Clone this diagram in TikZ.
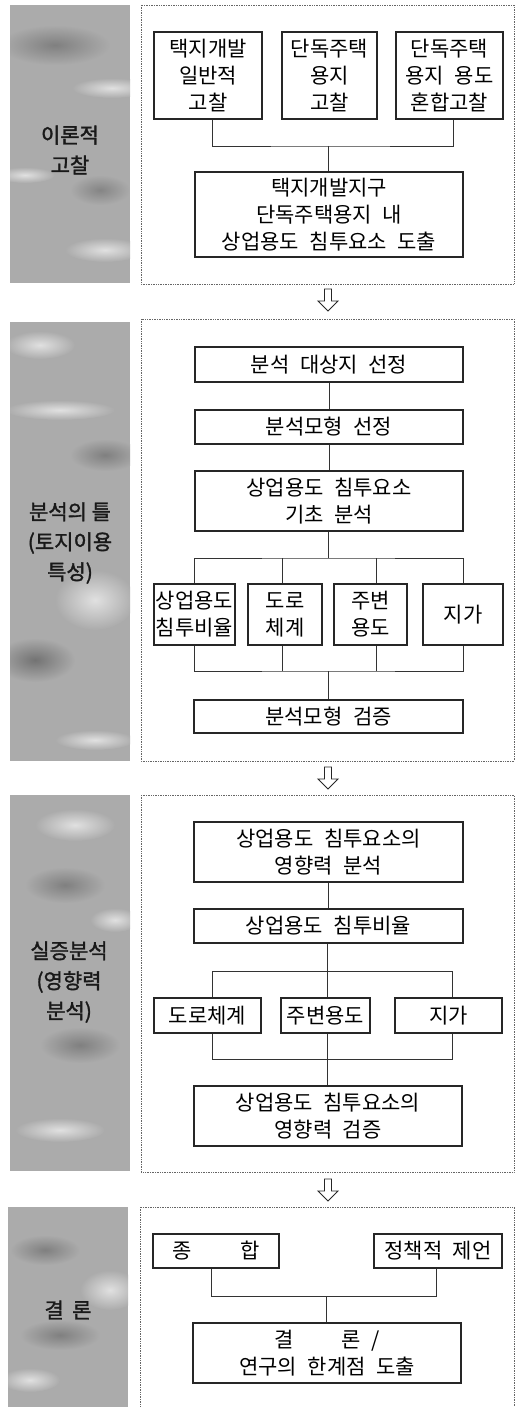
\documentclass[tikz,border=0pt]{standalone}
\usepackage{fontspec}
\newfontfamily\kr{Noto Sans CJK KR}
\newfontfamily\krp[FakeBold=1.5]{Noto Sans CJK KR}
\newcommand\boxfont{\kr\fontsize{21}{27}\selectfont\spaceskip 0.5em\relax}
\colorlet{pg}{black!33}
\tikzset{
  box/.style={draw=black!85, line width=1.1pt, inner sep=0pt, align=center,
    font=\boxfont},
  conn/.style={draw=black!80, line width=0.8pt},
  frame/.style={draw=black!60, densely dotted, line width=0.7pt},
  plabel/.style={align=center, inner sep=0pt, text=black!90,
    font=\krp\fontsize{21}{30}\selectfont},
  downarrow/.style={draw=black!85, line width=0.9pt, fill=white, line join=miter}
}
\begin{document}
\begin{tikzpicture}[x=1pt,y=-1pt]
\useasboundingbox (0,0) rectangle (516,1407);

% ---------- left textured panels ----------
\begin{scope}
\clip (10,5) rectangle (130,283);
\fill[pg] (10,5) rectangle (130,283);
\shade[inner color=black!50, outer color=pg] (55,45) ellipse (55 and 20);
\shade[inner color=black!12, outer color=pg] (112,88) ellipse (40 and 10);
\shade[inner color=black!12, outer color=pg] (25,175) ellipse (30 and 8);
\shade[inner color=black!48, outer color=pg] (100,190) ellipse (30 and 15);
\shade[inner color=black!12, outer color=pg] (105,250) ellipse (40 and 12);
\end{scope}
\begin{scope}
\clip (10,322) rectangle (130,761);
\fill[pg] (10,322) rectangle (130,761);
\shade[inner color=black!12, outer color=pg] (40,345) ellipse (35 and 14);
\shade[inner color=black!12, outer color=pg] (60,410) ellipse (55 and 10);
\shade[inner color=black!50, outer color=pg] (105,455) ellipse (35 and 16);
\shade[inner color=black!12, outer color=pg] (95,600) ellipse (40 and 30);
\shade[inner color=black!55, outer color=pg] (35,660) ellipse (40 and 22);
\shade[inner color=black!12, outer color=pg] (95,740) ellipse (40 and 10);
\end{scope}
\begin{scope}
\clip (10,795) rectangle (130,1171);
\fill[pg] (10,795) rectangle (130,1171);
\shade[inner color=black!12, outer color=pg] (75,825) ellipse (40 and 16);
\shade[inner color=black!50, outer color=pg] (65,885) ellipse (40 and 18);
\shade[inner color=black!12, outer color=pg] (115,920) ellipse (25 and 12);
\shade[inner color=black!50, outer color=pg] (80,1045) ellipse (40 and 18);
\shade[inner color=black!12, outer color=pg] (60,1130) ellipse (45 and 12);
\end{scope}
\begin{scope}
\clip (8,1207) rectangle (128,1407);
\fill[pg] (8,1207) rectangle (128,1407);
\shade[inner color=black!50, outer color=pg] (45,1250) ellipse (35 and 15);
\shade[inner color=black!12, outer color=pg] (110,1290) ellipse (30 and 20);
\shade[inner color=black!50, outer color=pg] (60,1335) ellipse (40 and 15);
\shade[inner color=black!12, outer color=pg] (30,1380) ellipse (30 and 12);
\end{scope}

\node[plabel] (P1) at (70,150) {이론적\\고찰};
\node[plabel] (P2) at (70,543) {분석의 틀\\(토지이용\\특성)};
\node[plabel] (P3) at (69,982) {실증분석\\(영향력\\분석)};
\node[plabel] (P4) at (68,1310) {결\hspace{0.4em}론};

% ---------- dotted frames ----------
\draw[frame] (141,5) rectangle (514,284);
\draw[frame] (141,319) rectangle (514,761);
\draw[frame] (141,795) rectangle (514,1172);
\draw[frame] (140,1420) -- (140,1207) -- (514,1207) -- (514,1420);

% ---------- hollow down arrows ----------
\foreach \ay in {289,767,1179}{
  \draw[downarrow] (324.5,\ay) -- (331.5,\ay) -- (331.5,\ay+12) -- (338,\ay+12)
    -- (328,\ay+22) -- (318,\ay+12) -- (324.5,\ay+12) -- cycle;
}

% ---------- section 1 ----------
\node[box, minimum width=108pt, minimum height=87pt] (A) at (208,75.5) {택지개발\\일반적\\고찰};
\node[box, minimum width=95pt, minimum height=87pt] (B) at (329.5,75.5) {단독주택\\용지\\고찰};
\node[box, minimum width=107pt, minimum height=87pt] (C) at (449.5,75.5) {단독주택\\용지 용도\\혼합고찰};
\node[box, minimum width=268pt, minimum height=85pt] (D) at (329,214.5) {택지개발지구\\단독주택용지 내\\상업용도 침투요소 도출};
\coordinate (j1) at (328,146);
\draw[conn] ([xshift=4pt]A.south) |- (j1) -| ([xshift=3.5pt]C.south);
\draw[conn] (j1) -- (j1 |- D.north);

% ---------- section 2 ----------
\node[box, minimum width=268pt, minimum height=35pt] (E) at (329,364.5) {분석 대상지 선정};
\node[box, minimum width=268pt, minimum height=34pt] (F) at (329,427) {분석모형 선정};
\node[box, minimum width=268pt, minimum height=60pt] (G) at (329,501) {상업용도 침투요소\\기초 분석};
\node[box, minimum width=81pt, minimum height=61pt] (H1) at (194.5,614.5) {상업용도\\침투비율};
\node[box, minimum width=74pt, minimum height=61pt] (H2) at (285,614.5) {도로\\체계};
\node[box, minimum width=73pt, minimum height=61pt] (H3) at (370.5,614.5) {주변\\용도};
\node[box, minimum width=80pt, minimum height=61pt] (H4) at (463,614.5) {지가};
\node[box, minimum width=269pt, minimum height=33pt] (I) at (328.5,716.5) {분석모형 검증};
\draw[conn] (E.south) -- (F.north);
\draw[conn] (F.south) -- (G.north);
\coordinate (j2) at (328,558);
\draw[conn] (j2 |- G.south) -- (j2);
\draw[conn] (H1.north) |- (j2) -| (H4.north);
\draw[conn] ([xshift=-3pt]H2.north) -- ([xshift=-3pt]H2.north |- j2);
\draw[conn] ([xshift=5.5pt]H3.north) -- ([xshift=5.5pt]H3.north |- j2);
\coordinate (j3) at (328,671);
\draw[conn] (H1.south) |- (j3) -| (H4.south);
\draw[conn] ([xshift=-3pt]H2.south) -- ([xshift=-3pt]H2.south |- j3);
\draw[conn] ([xshift=5.5pt]H3.south) -- ([xshift=5.5pt]H3.south |- j3);
\draw[conn] (j3) -- (j3 |- I.north);

% ---------- section 3 ----------
\node[box, minimum width=269pt, minimum height=60pt] (J) at (328.5,852) {상업용도 침투요소의\\영향력 분석};
\node[box, minimum width=269pt, minimum height=34pt] (K) at (328.5,926) {상업용도 침투비율};
\node[box, minimum width=107pt, minimum height=35pt] (L1) at (207.5,1015.5) {도로체계};
\node[box, minimum width=89pt, minimum height=35pt] (L2) at (325.5,1015.5) {주변용도};
\node[box, minimum width=107pt, minimum height=35pt] (L3) at (448.5,1015.5) {지가};
\node[box, minimum width=268pt, minimum height=60pt] (M) at (328,1116) {상업용도 침투요소의\\영향력 검증};
\draw[conn] (J.south) -- (K.north);
\coordinate (j4) at (327,971);
\draw[conn] (j4 |- K.south) -- (j4);
\draw[conn] ([xshift=4.5pt]L1.north) |- (j4) -| ([xshift=3.5pt]L3.north);
\draw[conn] ([xshift=1.5pt]L2.north) -- ([xshift=1.5pt]L2.north |- j4);
\coordinate (j5) at (327,1059);
\draw[conn] ([xshift=4.5pt]L1.south) |- (j5) -| ([xshift=3.5pt]L3.south);
\draw[conn] ([xshift=1.5pt]L2.south) -- ([xshift=1.5pt]L2.south |- j5);
\draw[conn] (j5) -- (j5 |- M.north);

% ---------- section 4 ----------
\node[box, minimum width=126pt, minimum height=34pt] (N) at (216,1251) {종\hspace{2.3em}합};
\node[box, minimum width=128pt, minimum height=34pt] (O) at (438,1251) {정책적 제언};
\node[box, minimum width=268pt, minimum height=60pt] (Pb) at (327,1353) {결\hspace{2.3em}론 /\\연구의 한계점 도출};
\coordinate (j6) at (326,1296);
\draw[conn] ([xshift=-5pt]N.south) |- (j6) -| ([xshift=-2pt]O.south);
\draw[conn] (j6) -- (j6 |- Pb.north);
\end{tikzpicture}
\end{document}
